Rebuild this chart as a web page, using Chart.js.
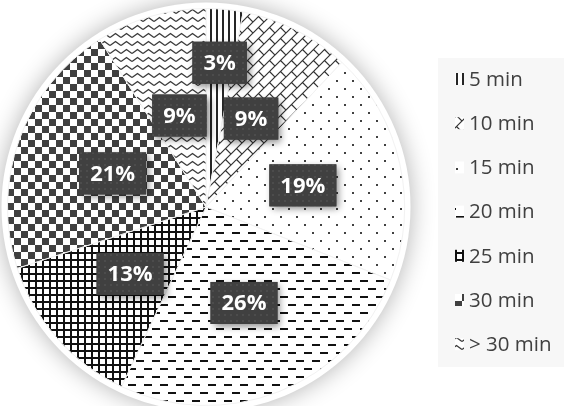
<!DOCTYPE html>
<html lang="en">
<head>
  <meta charset="UTF-8">
  <title>Wait Time Distribution</title>
  <script src="https://cdn.jsdelivr.net/npm/chart.js"></script>
  <style>
    html, body {
      margin: 0;
      padding: 0;
      background-color: #ffffff;
    }
    #chart-container {
      width: 564px;
      height: 406px;
      position: relative;
    }
  </style>
</head>
<body>
  <div id="chart-container">
    <canvas id="waitChart"></canvas>
  </div>
  <script>
    const categories = ['5 min', '10 min', '15 min', '20 min', '25 min', '30 min', '> 30 min'];
    const shares = [3, 9, 19, 26, 13, 21, 9];
    // how far out each percentage box sits, as a fraction of the radius
    const labelDistance = [0.73, 0.5, 0.5, 0.52, 0.51, 0.5, 0.48];

    // small repeating tiles used as slice fills
    function tile(w, h, draw) {
      const c = document.createElement('canvas');
      c.width = w;
      c.height = h;
      const g = c.getContext('2d');
      g.fillStyle = '#ffffff';
      g.fillRect(0, 0, w, h);
      draw(g);
      return g.createPattern(c, 'repeat');
    }

    const ink = '#262626';
    const grey = '#404040';
    const fills = [
      // vertical lines
      tile(6, 6, g => { g.fillStyle = ink; g.fillRect(0, 0, 2, 6); }),
      // diagonal brick
      tile(11, 11, g => {
        g.strokeStyle = '#333333';
        g.lineWidth = 1.2;
        g.beginPath();
        g.moveTo(-1, 12); g.lineTo(12, -1);
        g.moveTo(-1, 1); g.lineTo(1, -1);
        g.moveTo(10, 12); g.lineTo(12, 10);
        g.moveTo(5.5, 5.5); g.lineTo(11, 11);
        g.stroke();
      }),
      // sparse dots
      tile(16, 16, g => { g.fillStyle = grey; g.fillRect(0, 0, 2, 2); g.fillRect(8, 8, 2, 2); }),
      // horizontal dashes
      tile(16, 16, g => { g.fillStyle = '#111111'; g.fillRect(0, 0, 8, 2); g.fillRect(8, 8, 8, 2); }),
      // grid
      tile(7, 7, g => { g.fillStyle = '#111111'; g.fillRect(0, 0, 7, 2); g.fillRect(0, 0, 2, 7); }),
      // checkerboard
      tile(14, 14, g => { g.fillStyle = grey; g.fillRect(0, 0, 7, 7); g.fillRect(7, 7, 7, 7); }),
      // zigzag
      tile(11, 8, g => {
        g.strokeStyle = '#3a3a3a';
        g.lineWidth = 1.4;
        g.beginPath();
        g.moveTo(0, 5.5); g.lineTo(5.5, 1.5); g.lineTo(11, 5.5);
        g.stroke();
      })
    ];

    const boxTexture = tile(6, 6, g => {
      g.fillStyle = '#404040';
      g.fillRect(0, 0, 6, 6);
      g.fillStyle = '#4c4c4c';
      g.fillRect(2, 2, 2, 2);
    });

    // white rim and soft shadow behind the pie, plus the legend panel
    const pieBacking = {
      id: 'pieBacking',
      beforeDatasetsDraw(chart) {
        const ctx = chart.ctx;
        ctx.save();
        ctx.fillStyle = '#f7f7f7';
        ctx.fillRect(438, 58, 126, 309);
        const arc = chart.getDatasetMeta(0).data[0];
        const { x, y, outerRadius } = arc.getProps(['x', 'y', 'outerRadius'], true);
        ctx.shadowColor = 'rgba(0, 0, 0, 0.3)';
        ctx.shadowBlur = 24;
        ctx.fillStyle = '#ffffff';
        ctx.beginPath();
        ctx.arc(x, y, outerRadius + 6, 0, Math.PI * 2);
        ctx.fill();
        ctx.restore();
      }
    };

    // dark percentage boxes on each slice
    const sliceLabels = {
      id: 'sliceLabels',
      afterDatasetsDraw(chart) {
        const ctx = chart.ctx;
        const values = chart.data.datasets[0].data;
        chart.getDatasetMeta(0).data.forEach((arc, i) => {
          const { x, y, startAngle, endAngle, outerRadius } =
            arc.getProps(['x', 'y', 'startAngle', 'endAngle', 'outerRadius'], true);
          const mid = (startAngle + endAngle) / 2;
          const r = outerRadius * labelDistance[i];
          const cx = x + Math.cos(mid) * r;
          const cy = y + Math.sin(mid) * r;
          const text = values[i] + '%';
          ctx.save();
          ctx.font = 'bold 22px "Open Sans"';
          const w = ctx.measureText(text).width + 22;
          const h = 42;
          ctx.shadowColor = 'rgba(0, 0, 0, 0.45)';
          ctx.shadowBlur = 7;
          ctx.shadowOffsetX = 3;
          ctx.shadowOffsetY = 3;
          ctx.fillStyle = '#404040';
          ctx.fillRect(cx - w / 2, cy - h / 2, w, h);
          ctx.shadowColor = 'transparent';
          ctx.fillStyle = boxTexture;
          ctx.fillRect(cx - w / 2, cy - h / 2, w, h);
          ctx.fillStyle = '#ffffff';
          ctx.textAlign = 'center';
          ctx.textBaseline = 'middle';
          ctx.fillText(text, cx, cy + 1);
          ctx.restore();
        });
      }
    };

    // legend drawn in the right-hand panel with the same fills
    const sideLegend = {
      id: 'sideLegend',
      afterDraw(chart) {
        const ctx = chart.ctx;
        const bg = chart.data.datasets[0].backgroundColor;
        ctx.save();
        ctx.font = '20.5px "Open Sans"';
        ctx.textBaseline = 'middle';
        chart.data.labels.forEach((label, i) => {
          const cy = 79 + i * 44.2;
          ctx.fillStyle = bg[i];
          ctx.fillRect(455, cy - 6, 9, 12);
          ctx.fillStyle = '#404040';
          ctx.fillText(label, 469, cy + 1);
        });
        ctx.restore();
      }
    };

    const ctx = document.getElementById('waitChart').getContext('2d');
    const waitChart = new Chart(ctx, {
      type: 'pie',
      data: {
        labels: categories,
        datasets: [{
          data: shares,
          backgroundColor: fills,
          borderColor: '#f2f2f2',
          borderWidth: 1
        }]
      },
      options: {
        responsive: true,
        maintainAspectRatio: false,
        animation: false,
        layout: {
          padding: { left: 7, right: 159, top: 8, bottom: 0 }
        },
        plugins: {
          legend: { display: false },
          tooltip: { enabled: false }
        }
      },
      plugins: [pieBacking, sliceLabels, sideLegend]
    });
  </script>
</body>
</html>
